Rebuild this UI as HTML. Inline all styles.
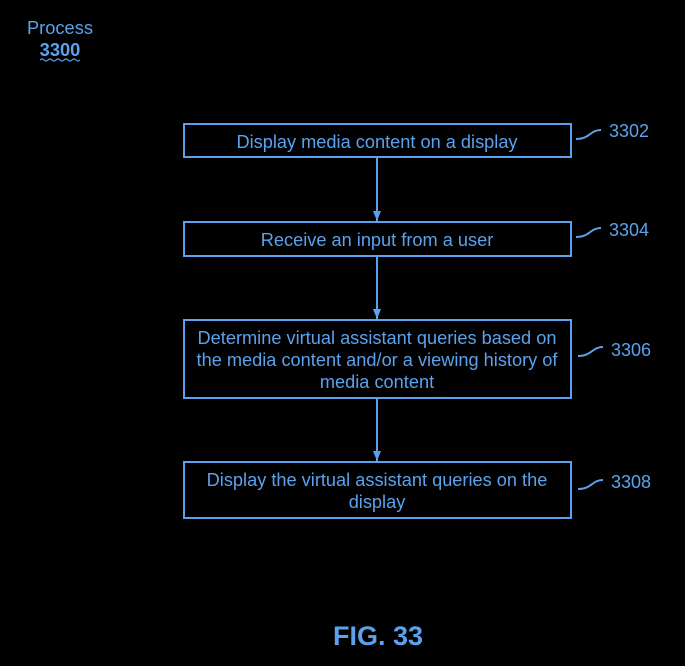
<!DOCTYPE html>
<html><head><style>
html,body{margin:0;padding:0;background:#000;width:685px;height:666px;overflow:hidden}
text{font-family:"Liberation Sans",sans-serif;fill:#5aa2ee}
</style></head><body>
<svg width="685" height="666" viewBox="0 0 685 666">
<defs><marker id="a" markerWidth="12" markerHeight="12" refX="10" refY="6" orient="auto" markerUnits="userSpaceOnUse"><path d="M0,2 L10,6 L0,10 Z" fill="#5aa2ee"/></marker></defs>
<g stroke="#5aa2ee" stroke-width="2" fill="none">
<rect x="184" y="124" width="387" height="33"/>
<rect x="184" y="222" width="387" height="34"/>
<rect x="184" y="320" width="387" height="78"/>
<rect x="184" y="462" width="387" height="56"/>
<line x1="377" y1="157" x2="377" y2="221" marker-end="url(#a)"/>
<line x1="377" y1="256" x2="377" y2="319" marker-end="url(#a)"/>
<line x1="377" y1="398" x2="377" y2="461" marker-end="url(#a)"/>
<path d="M576,139 C590,139 590,130 601,130"/>
<path d="M576,237 C590,237 590,228 601,228"/>
<path d="M578,356 C592,356 592,347 603,347"/>
<path d="M578,489 C592,489 592,480 603,480"/>
<path d="M40,60 Q42,58 44,60 T48,60 T52,60 T56,60 T60,60 T64,60 T68,60 T72,60 T76,60 T80,60" stroke-width="1.2"/>
</g>
<text x="60" y="34" font-size="18.3" text-anchor="middle">Process</text>
<text x="60" y="56" font-size="18.3" font-weight="bold" text-anchor="middle">3300</text>
<g font-size="18.2" text-anchor="middle">
<text x="377" y="148">Display media content on a display</text>
<text x="377" y="246">Receive an input from a user</text>
<text x="377" y="344">Determine virtual assistant queries based on</text>
<text x="377" y="366">the media content and/or a viewing history of</text>
<text x="377" y="388">media content</text>
<text x="377" y="486">Display the virtual assistant queries on the</text>
<text x="377" y="508">display</text>
</g>
<g font-size="18">
<text x="609" y="137">3302</text>
<text x="609" y="236">3304</text>
<text x="611" y="356">3306</text>
<text x="611" y="488">3308</text>
</g>
<text x="378" y="645" font-size="27" font-weight="bold" text-anchor="middle">FIG. 33</text>
</svg>
</body></html>
